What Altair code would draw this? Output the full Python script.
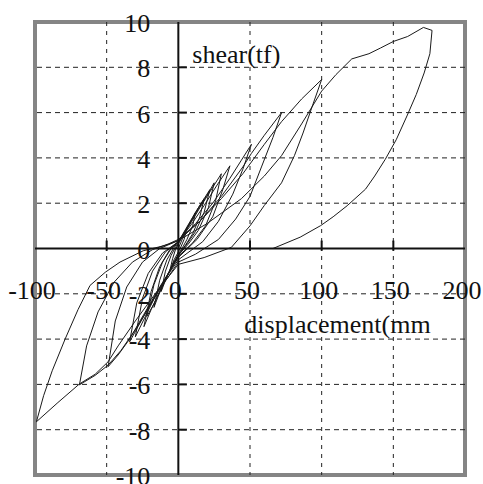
import altair as alt
import pandas as pd

# ---- hysteresis branches: (displacement mm, shear tf), in test order ----
b01 = [(0, 0), (3, 0.45), (6, 0.9)]
b02 = [(6, 0.9), (4, 0.4), (2, 0.1), (0, -0.15), (-3, -0.5), (-6, -1.0)]
b03 = [(-6, -1.0), (-4, -0.45), (-2, -0.05), (0, 0.2), (4, 0.65), (8, 1.1), (12, 1.6)]
b04 = [(12, 1.6), (10, 1.0), (6, 0.4), (3, 0.05), (0, -0.25), (-4, -0.7), (-8, -1.25), (-12, -1.9)]
b05 = [(-12, -1.9), (-9, -1.0), (-5, -0.3), (-2, 0.05), (0, 0.25), (5, 0.8), (10, 1.35), (14, 1.8), (18, 2.2)]
b06 = [(18, 2.2), (15, 1.4), (10, 0.65), (5, 0.15), (0, -0.3), (-5, -0.85), (-10, -1.5), (-14, -2.1), (-17, -2.6)]
b07 = [(-17, -2.6), (-13, -1.4), (-8, -0.5), (-3, 0.05), (0, 0.3), (6, 0.95), (12, 1.6), (18, 2.2), (22, 2.6)]
b08 = [(22, 2.6), (18, 1.6), (12, 0.75), (6, 0.2), (0, -0.3), (-6, -1.0), (-12, -1.75), (-17, -2.45), (-22, -3.0)]
b09 = [(-22, -3.0), (-17, -1.6), (-11, -0.6), (-5, 0.0), (0, 0.3), (7, 1.0), (14, 1.75), (20, 2.35), (25, 2.9)]
b10 = [(25, 2.9), (21, 1.8), (14, 0.8), (7, 0.2), (0, -0.3), (-7, -1.1), (-13, -1.9), (-19, -2.7), (-24, -3.45)]
b11 = [(-24, -3.45), (-19, -1.9), (-13, -0.8), (-6, -0.05), (0, 0.3), (8, 1.05), (15, 1.8), (22, 2.5), (30, 3.3)]
b12 = [(30, 3.3), (26, 2.1), (19, 1.0), (10, 0.25), (0, -0.35), (-8, -1.2), (-16, -2.1), (-23, -3.0), (-30, -3.9)]
b13 = [(-30, -3.9), (-25, -2.2), (-18, -1.0), (-9, -0.15), (0, 0.3), (9, 1.05), (18, 1.9), (27, 2.8), (36, 3.65)]
b14 = [(36, 3.65), (31, 2.6), (24, 1.4), (13, 0.4), (0, -0.4), (-9, -1.3), (-18, -2.3), (-26, -3.2), (-34, -4.12)]
b15 = [(-34, -4.12), (-29, -2.4), (-21, -1.1), (-11, -0.2), (0, 0.3), (12, 1.1), (24, 2.0), (36, 3.1),
       (44, 3.9), (51, 4.6)]
b16 = [(51, 4.6), (45, 3.5), (38, 2.4), (28, 1.2), (17, 0.3), (0, -0.5), (-12, -1.6), (-24, -2.9),
       (-34, -4.0), (-42, -4.7), (-49, -5.22)]
b17 = [(-49, -5.22), (-44, -3.2), (-36, -1.7), (-25, -0.6), (-13, 0.0), (0, 0.35), (15, 1.2), (30, 2.3),
       (45, 3.6), (51, 4.2), (60, 5.0), (72, 6.0)]
b18 = [(72, 6.0), (66, 4.9), (58, 3.6), (50, 2.3), (40, 1.3), (28, 0.4), (12, -0.25), (0, -0.6),
       (-14, -1.9), (-28, -3.4), (-40, -4.5), (-49, -5.15), (-58, -5.6), (-69, -6.02)]
b19 = [(-69, -6.02), (-64, -4.3), (-56, -2.8), (-45, -1.5), (-32, -0.6), (-18, -0.05), (-7, 0.2), (0, 0.4),
       (15, 1.2), (30, 2.2), (45, 3.3), (60, 4.6), (72, 5.6), (86, 6.6), (100, 7.46)]
b20 = [(100, 7.46), (93, 6.2), (87, 5.1), (81, 4.1), (72, 2.9), (60, 1.9), (50, 1.0), (37, 0.05), (18, -0.4),
       (0, -0.7), (-15, -1.9), (-30, -3.2), (-42, -4.3), (-49, -5.0), (-58, -5.55), (-69, -5.98),
       (-84, -6.8), (-99, -7.65)]
b21 = [(-99, -7.65), (-94, -6.5), (-88, -5.4), (-79, -4.0), (-70, -2.7), (-61.6, -1.63), (-51, -1.05),
       (-40.7, -0.6), (-24.5, -0.1), (-9.5, 0.13), (0, 0.35), (20, 1.1), (44, 2.2), (60, 3.2), (72, 4.1),
       (86, 5.5), (100, 6.95), (110, 7.68), (121, 8.37), (133, 8.6), (141, 8.85), (150, 9.14), (160, 9.36),
       (171, 9.76), (177, 9.63)]
b22 = [(177, 9.63), (175.5, 8.6), (171.5, 7.75), (166, 6.8), (159.5, 5.85), (152, 4.8), (144.4, 3.94),
       (137, 3.2), (130.6, 2.62), (117.8, 1.89), (108, 1.4), (99.3, 1.01), (85, 0.5), (66, 0)]

branches = [b01, b02, b03, b04, b05, b06, b07, b08, b09, b10, b11,
            b12, b13, b14, b15, b16, b17, b18, b19, b20, b21, b22]

x_tick_values = [-100, -50, 0, 50, 100, 150, 200]
x_tick_labels = ["-100", "-50", "0", "50", "100", "150", "200"]
y_tick_values = [10, 8, 6, 4, 2, 0, -2, -4, -6, -8, -10]
y_tick_labels = ["10", "8", "6", "4", "2", "0", "-2", "-4", "-6", "-8", "-10"]
x_grid = [-50, 50, 100, 150]
y_grid = [8, 6, 4, 2, -2, -4, -6, -8]
x_title = "displacement(mm"
y_title = "shear(tf)"

# ---- tables ----
rows = []
k = 0
for b in branches:
    for d, s in b:
        rows.append({"d": d, "s": s, "k": k})
        k += 1
curve = pd.DataFrame(rows)

FONT = "Liberation Serif, Times New Roman, DejaVu Serif, serif"
FS = 26
INK = "#111111"

xs = alt.Scale(domain=[-100, 200], nice=False, zero=False)
ys = alt.Scale(domain=[-10, 10], nice=False, zero=False)


def X(f):
    return alt.X(f, type="quantitative", scale=xs, axis=None)


def Y(f):
    return alt.Y(f, type="quantitative", scale=ys, axis=None)


gx = alt.Chart(pd.DataFrame({"v": x_grid})).mark_rule(
    strokeDash=[4, 5], color="#222222", strokeWidth=1
).encode(x=X("v"))

gy = alt.Chart(pd.DataFrame({"v": y_grid})).mark_rule(
    strokeDash=[5, 4], color="#222222", strokeWidth=1
).encode(y=Y("v"))

ax_x = alt.Chart(pd.DataFrame({"v": [0]})).mark_rule(color=INK, strokeWidth=2).encode(y=Y("v"))
ax_y = alt.Chart(pd.DataFrame({"v": [0]})).mark_rule(color=INK, strokeWidth=2).encode(x=X("v"))

tick_y = alt.Chart(pd.DataFrame({"v": y_grid, "a": [0] * len(y_grid), "b": [6] * len(y_grid)})).mark_rule(
    color=INK, strokeWidth=2).encode(y=Y("v"), x=X("a"), x2="b:Q")
tick_x = alt.Chart(pd.DataFrame({"v": x_grid, "a": [-0.1] * len(x_grid), "b": [0.35] * len(x_grid)})).mark_rule(
    color=INK, strokeWidth=2).encode(x=X("v"), y=Y("a"), y2="b:Q")

line = alt.Chart(curve).mark_line(color="#1a1a1a", strokeWidth=1).encode(
    x=X("d"), y=Y("s"), order="k:Q",
)

xlab = alt.Chart(pd.DataFrame({"v": x_tick_values, "t": x_tick_labels, "z": [0] * 7})).mark_text(
    font=FONT, fontSize=FS, color=INK, align="center", baseline="alphabetic", dy=50, dx=-3
).encode(x=X("v"), y=Y("z"), text="t:N")

ylab = alt.Chart(pd.DataFrame({"v": y_tick_values, "t": y_tick_labels, "z": [0] * 11})).mark_text(
    font=FONT, fontSize=FS, color=INK, align="right", baseline="middle", dx=-28, dy=2
).encode(y=Y("v"), x=X("z"), text="t:N")

ttl_y = alt.Chart(pd.DataFrame({"t": [y_title], "a": [0], "b": [8]})).mark_text(
    font=FONT, fontSize=FS, color=INK, align="left", baseline="alphabetic", dx=14, dy=-4
).encode(x=X("a"), y=Y("b"), text="t:N")

ttl_x = alt.Chart(pd.DataFrame({"t": [x_title], "a": [0], "b": [0]})).mark_text(
    font=FONT, fontSize=FS, color=INK, align="left", baseline="alphabetic", dx=66, dy=84
).encode(x=X("a"), y=Y("b"), text="t:N")

chart = alt.layer(
    gx, gy, line, ax_x, ax_y, tick_x, tick_y, xlab, ylab, ttl_y, ttl_x
).properties(
    width=430, height=453,
    autosize=alt.AutoSizeParams(type="none"),
    padding={"left": 35, "top": 22, "right": 18, "bottom": 9},
    background="white",
).configure_view(stroke="#858585", strokeWidth=4)

chart.save("out.html", embed_options={"renderer": "svg", "actions": False})
